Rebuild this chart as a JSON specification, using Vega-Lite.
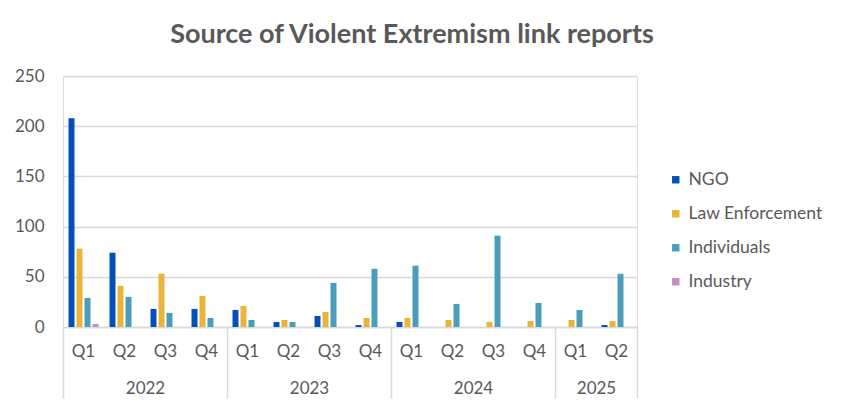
{
  "$schema": "https://vega.github.io/schema/vega-lite/v6.json",
  "autosize": {"type": "none"},
  "width": 574,
  "height": 251,
  "padding": {"left": 63, "top": 76, "right": 207, "bottom": 83},
  "background": "white",
  "title": {
    "text": "Source of Violent Extremism link reports",
    "font": "Lato",
    "fontSize": 27,
    "fontWeight": "bold",
    "color": "#595959",
    "anchor": "middle",
    "baseline": "alphabetic",
    "offset": 22,
    "dy": 25,
    "dx": 62
  },
  "data": {
    "values": [
      {"period": "2022 Q1", "source": "NGO", "value": 208},
      {"period": "2022 Q1", "source": "Law Enforcement", "value": 78},
      {"period": "2022 Q1", "source": "Individuals", "value": 29},
      {"period": "2022 Q1", "source": "Industry", "value": 3},
      {"period": "2022 Q2", "source": "NGO", "value": 74},
      {"period": "2022 Q2", "source": "Law Enforcement", "value": 41},
      {"period": "2022 Q2", "source": "Individuals", "value": 30},
      {"period": "2022 Q3", "source": "NGO", "value": 18},
      {"period": "2022 Q3", "source": "Law Enforcement", "value": 53},
      {"period": "2022 Q3", "source": "Individuals", "value": 14},
      {"period": "2022 Q4", "source": "NGO", "value": 18},
      {"period": "2022 Q4", "source": "Law Enforcement", "value": 31},
      {"period": "2022 Q4", "source": "Individuals", "value": 9},
      {"period": "2023 Q1", "source": "NGO", "value": 17},
      {"period": "2023 Q1", "source": "Law Enforcement", "value": 21},
      {"period": "2023 Q1", "source": "Individuals", "value": 7},
      {"period": "2023 Q2", "source": "NGO", "value": 5},
      {"period": "2023 Q2", "source": "Law Enforcement", "value": 7},
      {"period": "2023 Q2", "source": "Individuals", "value": 5},
      {"period": "2023 Q3", "source": "NGO", "value": 11},
      {"period": "2023 Q3", "source": "Law Enforcement", "value": 15},
      {"period": "2023 Q3", "source": "Individuals", "value": 44},
      {"period": "2023 Q4", "source": "NGO", "value": 2},
      {"period": "2023 Q4", "source": "Law Enforcement", "value": 9},
      {"period": "2023 Q4", "source": "Individuals", "value": 58},
      {"period": "2024 Q1", "source": "NGO", "value": 5},
      {"period": "2024 Q1", "source": "Law Enforcement", "value": 9},
      {"period": "2024 Q1", "source": "Individuals", "value": 61},
      {"period": "2024 Q2", "source": "Law Enforcement", "value": 7},
      {"period": "2024 Q2", "source": "Individuals", "value": 23},
      {"period": "2024 Q3", "source": "Law Enforcement", "value": 5},
      {"period": "2024 Q3", "source": "Individuals", "value": 91},
      {"period": "2024 Q4", "source": "Law Enforcement", "value": 6},
      {"period": "2024 Q4", "source": "Individuals", "value": 24},
      {"period": "2025 Q1", "source": "Law Enforcement", "value": 7},
      {"period": "2025 Q1", "source": "Individuals", "value": 17},
      {"period": "2025 Q2", "source": "NGO", "value": 2},
      {"period": "2025 Q2", "source": "Law Enforcement", "value": 6},
      {"period": "2025 Q2", "source": "Individuals", "value": 53}
    ]
  },
  "resolve": {"axis": {"x": "independent"}},
  "layer": [
    {
      "mark": {"type": "bar"},
      "encoding": {
        "x": {
          "field": "period",
          "type": "nominal",
          "sort": null,
          "scale": {"type": "band", "paddingInner": 0, "paddingOuter": 0},
          "axis": {
            "orient": "bottom",
            "title": null,
            "labelExpr": "split(datum.value, ' ')[1]",
            "labelAngle": 0,
            "labelFont": "Lato",
            "labelFontSize": 17,
            "labelColor": "#595959",
            "labelPadding": 16,
            "ticks": false,
            "domain": true,
            "domainColor": "#d9d9d9",
            "domainWidth": 1.5,
            "grid": false
          }
        },
        "xOffset": {
          "field": "source",
          "type": "nominal",
          "scale": {"domain": ["NGO", "Law Enforcement", "Individuals", "Industry"], "paddingInner": 0.25, "paddingOuter": 0.6875}
        },
        "y": {
          "field": "value",
          "type": "quantitative",
          "scale": {"domain": [0, 250], "nice": false},
          "axis": {
            "title": null,
            "values": [0, 50, 100, 150, 200, 250],
            "domain": false,
            "ticks": false,
            "labelFont": "Lato",
            "labelFontSize": 17,
            "labelColor": "#595959",
            "labelPadding": 19,
            "gridColor": "#d9d9d9",
            "gridWidth": 1.3
          }
        },
        "color": {
          "field": "source",
          "type": "nominal",
          "scale": {
            "domain": ["NGO", "Law Enforcement", "Individuals", "Industry"],
            "range": ["#0450B8", "#E8B43A", "#4A9EB8", "#C58EBE"]
          },
          "legend": {
            "orient": "none",
            "legendX": 604,
            "legendY": 95,
            "title": null,
            "symbolType": "square",
            "symbolSize": 55,
            "symbolStrokeWidth": 0,
            "labelFont": "Lato",
            "labelFontSize": 17.5,
            "labelColor": "#595959",
            "labelOffset": 4,
            "rowPadding": 15,
            "padding": 0,
            "symbolOffset": 0
          }
        }
      }
    },
    {
      "mark": {"type": "rule", "strokeOpacity": 0},
      "encoding": {
        "x": {
          "field": "period",
          "type": "nominal",
          "sort": null,
          "axis": {
            "orient": "bottom",
            "title": null,
            "labelExpr": "indexof(['2022 Q2','2023 Q2','2024 Q2','2025 Q1'], datum.value) >= 0 ? split(datum.value, ' ')[0] : ''",
            "labelAngle": 0,
            "labelFont": "Lato",
            "labelFontSize": 17,
            "labelColor": "#595959",
            "labelOffset": 20.5,
            "labelPadding": -18,
            "labelBound": false,
            "labelOverlap": false,
            "domain": false,
            "grid": false,
            "ticks": true,
            "tickBand": "extent",
            "tickSize": 71,
            "tickColor": "#d9d9d9",
            "tickWidth": 1.5,
            "tickOpacity": {"condition": {"test": "!datum.value || indexof(datum.value, 'Q4') >= 0 || datum.value == '2025 Q2'", "value": 1}, "value": 0}
          }
        }
      }
    }
  ]
}
